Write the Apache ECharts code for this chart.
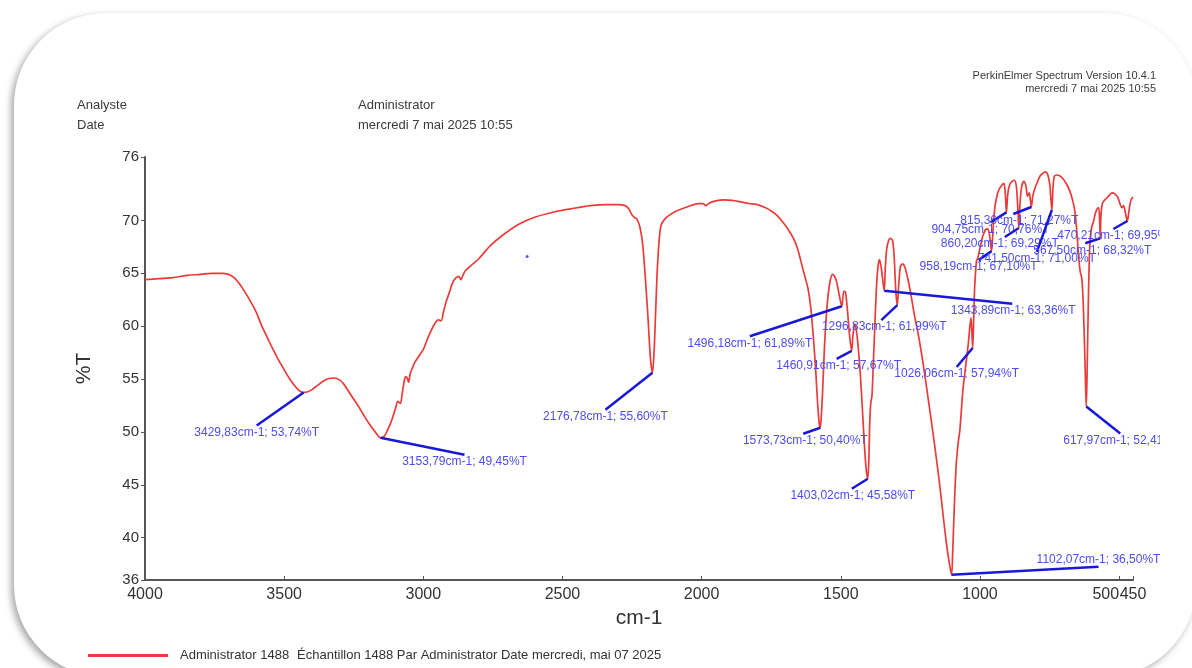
<!DOCTYPE html>
<html><head><meta charset="utf-8">
<script src="https://cdn.jsdelivr.net/npm/echarts@6/dist/echarts.min.js"></script>
<style>
html,body{margin:0;padding:0;background:#fff;width:1192px;height:668px;overflow:hidden;}
#card{position:absolute;left:14px;top:13px;width:1182px;height:664px;border-radius:92px;background:#fff;box-shadow:-3px 3px 7px rgba(0,0,0,0.35);}
#chart{position:absolute;left:0;top:0;width:1160px;height:668px;}
</style></head><body>
<div id="card"></div><div id="chart"></div>
<script>
// ---- data ----
const wavenumbers = [4000,3950,3900,3850,3800,3760,3722,3700,3680,3660,3640,3620,3600,3580,3560,3540,3520,3500,3480,3460,3445,3429.83,3415,3400,3380,3360,3340,3320,3300,3285,3270,3250,3230,3210,3190,3170,3153.79,3140,3128,3115,3105,3098,3092,3087,3082,3076,3070,3064,3058,3053,3047,3040,3030,3015,3000,2985,2970,2955,2945,2936,2928,2918,2905,2895,2882,2872,2865,2858,2850,2830,2800,2760,2715,2660,2600,2530,2470,2400,2340,2300,2275,2262,2252,2242,2232,2222,2212,2202,2192,2184,2176.78,2171,2165,2159,2152,2145,2130,2110,2090,2050,2010,1995,1985,1975,1950,1920,1890,1860,1830,1800,1770,1750,1730,1710,1690,1670,1655,1640,1628,1618,1608,1598,1590,1583,1577,1573.73,1570,1565,1559,1553,1546,1538,1530,1522,1514,1506,1496.18,1489,1483,1476,1468,1460.91,1456,1450,1445,1438,1430,1422,1414,1408,1403.02,1399,1396,1392,1388,1383,1377,1371,1366,1361,1355,1349,1343.89,1340,1335,1328,1322,1314,1308,1302,1296.83,1292,1286,1278,1270,1260,1250,1235,1220,1205,1190,1175,1160,1145,1130,1120,1110,1102.07,1098,1092,1085,1078,1072,1061,1050,1042,1036,1032,1029,1026.06,1023,1020,1016,1012,1008,998,990,980,972,965,958.19,952,946,940,932,922,914,909,904.75,900,893,884,876,869,864,860.2,856,850,842,835,829,823,819,815.36,810,803,794,784,772,764,756,749,745,741.5,737,732,724,712,700,688,676,666,658,652,646,640,634,629,624,620,617.97,615,611,607,603,598,592,586,579,573,570,567.5,565,560,553,545,535,525,515,505,497,490,484,478,474,470.21,466,461,456,450];
const transmittance = [64.4,64.5,64.6,64.8,64.9,65.0,65.0,64.9,64.6,64.0,63.2,62.3,61.3,60.0,58.9,57.8,56.8,55.9,55.0,54.3,53.9,53.74,53.8,54.0,54.4,54.8,55.05,55.1,54.9,54.5,53.9,53.1,52.3,51.4,50.6,49.9,49.45,49.6,50.2,51.0,51.8,52.4,52.9,52.8,52.7,53.6,54.6,55.2,55.1,54.7,55.5,56.0,56.6,57.2,57.8,58.8,59.7,60.4,60.6,60.5,61.3,62.3,63.3,64.1,64.6,64.7,64.4,64.8,65.2,65.7,66.4,67.6,68.6,69.6,70.3,70.8,71.1,71.4,71.5,71.5,71.4,71.1,70.6,70.3,70.1,69.4,67.8,64.5,60.5,57.0,55.6,57.5,61.5,65.5,68.3,69.6,70.2,70.6,70.9,71.3,71.6,71.6,71.4,71.6,71.85,71.95,71.9,71.75,71.6,71.5,71.2,70.9,70.5,69.9,69.2,68.3,67.3,65.8,64.6,63.6,61.8,58.8,55.8,52.6,50.7,50.4,51.5,54.0,57.8,60.6,62.8,64.3,64.9,64.7,64.1,63.0,61.89,63.3,63.2,61.5,59.0,57.67,59.2,60.2,59.8,58.2,55.6,52.0,48.3,46.3,45.58,47.5,50.8,52.8,53.4,56.5,60.5,64.0,65.7,66.3,65.6,64.3,63.36,65.5,67.3,68.1,68.3,68.1,66.5,63.2,61.99,63.8,65.6,65.9,65.6,64.6,63.3,61.0,59.0,56.6,53.9,51.1,48.2,45.1,41.6,39.4,37.6,36.5,38.5,43.0,47.0,49.0,50.2,54.0,56.5,58.3,60.0,60.8,59.5,57.94,60.0,63.0,65.0,66.2,66.4,67.6,68.5,69.1,69.2,68.5,67.1,69.5,71.3,72.2,72.9,73.3,73.5,72.6,70.76,72.5,73.4,73.7,73.8,73.2,71.2,69.29,71.6,73.2,73.7,73.3,72.3,72.6,72.0,71.27,72.3,73.0,73.6,74.2,74.5,74.6,74.3,73.4,72.0,71.0,73.3,74.2,74.3,74.2,73.9,73.4,72.7,71.8,70.7,69.0,66.8,65.2,64.5,62.3,58.0,54.0,52.41,55.5,61.5,66.4,68.5,69.4,69.9,70.6,71.1,71.2,70.0,68.32,70.5,71.6,71.9,72.1,72.4,72.6,72.5,72.2,71.6,71.2,71.4,70.8,70.3,69.95,70.6,71.5,72.0,72.2];

const peakWavenumbers = [3429.83,3153.79,2176.78,1573.73,1496.18,1460.91,1403.02,1343.89,1296.83,1102.07,1026.06,958.19,904.75,860.20,815.36,741.50,617.97,567.50,470.21];
const peakTransmittance = [53.74,49.45,55.60,50.40,61.89,57.67,45.58,63.36,61.99,36.50,57.94,67.10,70.76,69.29,71.27,71.00,52.41,68.32,69.95];

const strayPoint = [[2627, 66.6]];

const xTickValues = [4000,3500,3000,2500,2000,1500,1000];
const xNearEndTickValues = [500];
const xEndTickValues = [450];
const yTickValues = [36,40,45,50,55,60,65,70,76];

const seriesName = 'Administrator 1488';
const sampleText = 'Échantillon 1488 Par Administrator Date mercredi, mai 07 2025';
const headerLabels = ['Analyste', 'Date'];
const headerValues = ['Administrator', 'mercredi 7 mai 2025 10:55'];
const softwareLines = ['PerkinElmer Spectrum Version 10.4.1', 'mercredi 7 mai 2025 10:55'];

// ---- layout only: leader-line end offsets (px) from each peak, text x shift, text side ----
const leaderLayout = [[-47,33,0,'b'],[84,17,0,'b'],[-47,37,0,'b'],[-17,6,2,'b'],[-92,30,0,'b'],[-15,8,2,'b'],[-16,10,1,'b'],[128,13,1,'b'],[-16,15,3,'b'],[147,-8,0,'a'],[-16,19,0,'b'],[-13,9,0,'b'],[-16,10,0,'b'],[-14,9,-5,'b'],[-18,7,6,'b'],[-15,42,0,'b'],[34,27,2,'b'],[-15,5,7,'b'],[-14,8,3,'b']];

function fmt(v){ return v.toFixed(2).replace('.', ','); }

const chart = echarts.init(document.getElementById('chart'), null, {renderer:'canvas'});
const FONT = '"Liberation Sans", Arial, sans-serif';

const graphics = [];
headerLabels.forEach((t,i)=>graphics.push({type:'text', left:77, top:99+i*20, style:{text:t, fill:'#3a3a3a', font:'13px '+FONT}}));
headerValues.forEach((t,i)=>graphics.push({type:'text', left:358, top:99+i*20, style:{text:t, fill:'#3a3a3a', font:'13px '+FONT}}));
softwareLines.forEach((t,i)=>graphics.push({type:'text', right:4, top:70+i*13, style:{text:t, fill:'#3a3a3a', font:'11px '+FONT, align:'right'}}));

function tickAxis(values, align){
  return {
    type:'value', inverse:true, min:450, max:4000, position:'bottom',
    splitLine:{show:false},
    axisLine:{show:false, onZero:false},
    axisTick:{show:true, inside:true, length:4, customValues:values, lineStyle:{color:'#555'}},
    axisLabel:{customValues:values, fontSize:16, color:'#333', margin:7, align:align, hideOverlap:false,
      showMinLabel:true, showMaxLabel:true, formatter:function(v){ return String(v); }}
  };
}

const mainX = tickAxis(xTickValues, 'center');
mainX.name = 'cm-1'; mainX.nameLocation = 'middle'; mainX.nameGap = 21;
mainX.nameTextStyle = {fontSize:21, color:'#333'};
mainX.axisLine = {show:true, onZero:false, lineStyle:{color:'#555', width:2}};

chart.setOption({
  animation:false,
  textStyle:{fontFamily:FONT},
  graphic: graphics,
  grid:{left:145, top:157, width:988, height:423, containLabel:false, outerBoundsMode:'none'},
  legend:{
    left:83, top:644, selectedMode:false, icon:'rect', itemWidth:80, itemHeight:3,
    data:[{name:seriesName, itemStyle:{color:'#ea3b3b'}}],
    formatter: function(n){ return '{a|'+n+'}{b|'+sampleText+'}'; },
    textStyle:{fontSize:13, color:'#333', rich:{a:{fontSize:13,color:'#333',padding:[0,0,0,7]}, b:{fontSize:13,color:'#333',padding:[0,0,0,8]}}}
  },
  xAxis:[ mainX, tickAxis(xNearEndTickValues, 'right'), tickAxis(xEndTickValues, 'center') ],
  yAxis:{
    type:'value', min:36, max:76,
    name:'%T', nameLocation:'middle', nameGap:50, nameRotate:90,
    nameTextStyle:{fontSize:21, color:'#333'},
    axisLine:{show:true, onZero:false, lineStyle:{color:'#555', width:2}},
    axisTick:{show:true, length:4, customValues:yTickValues, lineStyle:{color:'#555'}},
    axisLabel:{customValues:yTickValues, fontSize:15, color:'#333', margin:6, hideOverlap:false,
      showMinLabel:true, showMaxLabel:true, formatter:function(v){ return String(v); }},
    splitLine:{show:false}
  },
  series:[
    {
      name:seriesName, type:'line', showSymbol:false, smooth:0.3, clip:true, xAxisIndex:0,
      lineStyle:{color:'#ea3b3b', width:1.7}, itemStyle:{color:'#ea3b3b'},
      data: wavenumbers.map((w,i)=>[w, transmittance[i]]), z:2
    },
    {
      type:'custom', clip:false, z:5, silent:true, xAxisIndex:0,
      data: peakWavenumbers.map((w,i)=>[w, peakTransmittance[i]]),
      renderItem: function(params, api){
        const i = params.dataIndex;
        const w = api.value(0), t = api.value(1);
        const p = api.coord([w, t]);
        const L = leaderLayout[i];
        const ex = p[0]+L[0], ey = p[1]+L[1];
        const above = L[3]==='a';
        return {type:'group', children:[
          {type:'line', shape:{x1:p[0], y1:p[1], x2:ex, y2:ey}, style:{stroke:'#1818d6', lineWidth:2.5}},
          {type:'text', x:ex+L[2], y: above ? ey-1 : ey+1,
           style:{text: fmt(w)+'cm-1; '+fmt(t)+'%T', fill:'#4c4cf2', font:'12px '+FONT, align:'center', verticalAlign: above?'bottom':'top'}}
        ]};
      }
    },
    {
      type:'scatter', data: strayPoint, symbolSize:3, itemStyle:{color:'#3030d0'}, silent:true, z:4, xAxisIndex:0
    }
  ]
});
</script>
</body></html>
